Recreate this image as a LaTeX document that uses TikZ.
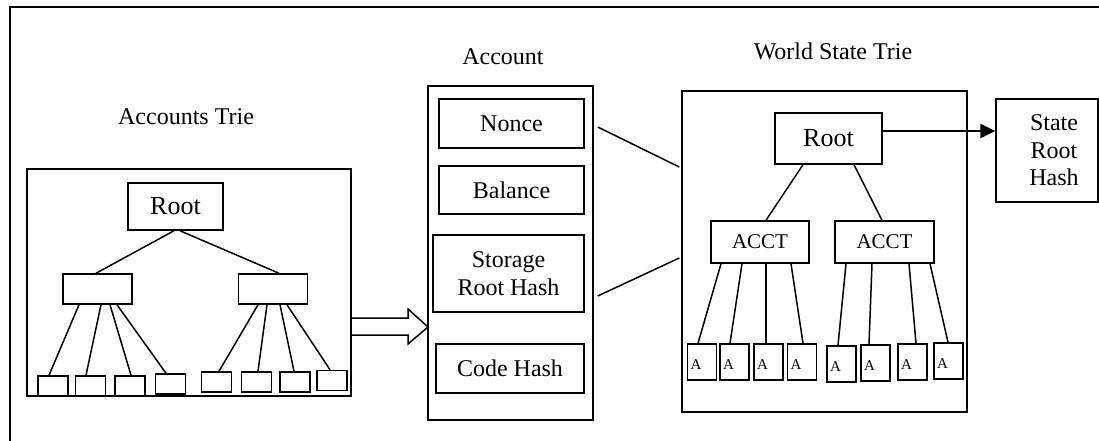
\documentclass[tikz,border=0pt]{standalone}
\usepackage{fontspec}
\setmainfont{Liberation Serif}
\usetikzlibrary{arrows.meta}

\tikzset{
  box/.style={draw, line width=1.5pt, inner sep=0pt, align=center,
    font=\fontsize{24}{27.5}\selectfont},
  bigtext/.style={font=\fontsize{26}{30}\selectfont},
  acctbox/.style={box, minimum width=98pt, minimum height=42pt,
    font=\fontsize{21}{24}\selectfont},
  leaf/.style={box, minimum width=30pt, minimum height=20pt},
  aleaf/.style={box, minimum width=29pt, minimum height=36pt, text width=23pt,
    align=left, font=\fontsize{15}{18}\selectfont},
  edge/.style={line width=1.5pt},
  title/.style={font=\fontsize{24}{27.5}\selectfont},
}

\begin{document}
\begin{tikzpicture}[x=1pt, y=-1pt]
  \useasboundingbox (0,0) rectangle (1099,441);
  % frame
  \draw[line width=2pt] (10,441) -- (10,7) -- (1099,7);

  % accounts trie
  \node[title] (ltitle) at (186,117) {Accounts Trie};
  \node[box, minimum width=324pt, minimum height=227pt] (ltrie) at (189,282.5) {};
  \node[box, bigtext, minimum width=95pt, minimum height=47pt] (lroot) at (175.5,206.5) {Root};
  \node[box, minimum width=69pt, minimum height=30pt] (lmidA) at (97.5,289) {};
  \node[box, minimum width=69pt, minimum height=30pt] (lmidB) at (273,289) {};
  \foreach \x/\y [count=\i] in {53/386, 90.5/386, 130/386, 170.5/384,
      216.5/382, 256.5/382, 295/382, 332/380.5}
    \node[leaf] (lleaf\i) at (\x,\y) {};
  \draw[edge] ([shift={(-1.5,0)}]lroot.south) -- ([shift={(-1.5,0)}]lmidA.north);
  \draw[edge] ([shift={(4.5,0)}]lroot.south) -- ([shift={(6,0)}]lmidB.north);
  \foreach \i/\a/\b in {1/-18.5/-4, 2/3.5/-4.5, 3/12.5/1, 4/19.5/-4.5}
    \draw[edge] ([shift={(\a,0)}]lmidA.south) -- ([shift={(\b,0)}]lleaf\i.north);
  \foreach \i/\a/\b in {5/-15/2.5, 6/-6/1.5, 7/7/-1, 8/14/-2}
    \draw[edge] ([shift={(\a,0)}]lmidB.south) -- ([shift={(\b,0)}]lleaf\i.north);

  % hollow arrow
  \draw[edge] (351,318) -- (408,318) -- (408,309) -- (428,327)
    -- (408,344) -- (408,335) -- (351,335);

  % account
  \node[title] (atitle) at (503,57) {Account};
  \node[box, minimum width=165pt, minimum height=334pt] (acct) at (510.5,253) {};
  \node[box, minimum width=145pt, minimum height=49pt] (nonce) at (511.5,123.5) {Nonce};
  \node[box, minimum width=145pt, minimum height=48pt] (balance) at (511.5,190) {Balance};
  \node[box, minimum width=151pt, minimum height=77pt] (storage) at (508.5,273.5) {Storage\\Root Hash};
  \node[box, minimum width=148pt, minimum height=49pt] (code) at (510,368.5) {Code Hash};

  % world state trie
  \node[title] (wtitle) at (833,51) {World State Trie};
  \node[box, minimum width=285pt, minimum height=321pt] (wbox) at (824.5,251.5) {};
  \node[box, bigtext, minimum width=107pt, minimum height=51pt] (wroot) at (828.5,138.5) {Root};
  \node[box, minimum width=102pt, minimum height=103pt] (state) at (1047,150.5)
    {\hspace*{14pt}State\\\hspace*{14pt}Root\\\hspace*{14pt}Hash};
  \node[acctbox] (acctA) at (760,242) {ACCT};
  \node[acctbox, minimum width=99pt] (acctB) at (884.5,242) {ACCT};
  \foreach \x/\y [count=\i] in {702/362, 734.5/362, 768.5/362, 802/362,
      841.5/364, 875.5/363, 912.5/362, 948.5/361}
    \node[aleaf] (wleaf\i) at (\x,\y) {\raisebox{-3pt}[\height][0pt]{A}};
  \draw[edge] ([shift={(-25.5,0)}]wroot.south) -- ([shift={(6,0)}]acctA.north);
  \draw[edge] ([shift={(25.5,0)}]wroot.south) -- ([shift={(-2.5,0)}]acctB.north);
  \foreach \i/\a/\b in {1/-39/-4, 2/-18/-4.5, 3/6/-2.5, 4/31/1}
    \draw[edge] ([shift={(\a,0)}]acctA.south) -- ([shift={(\b,0)}]wleaf\i.north);
  \foreach \i/\a/\b in {5/-38.5/-3.5, 6/-12.5/-6.5, 7/24.5/3.5, 8/45.5/-0.5}
    \draw[edge] ([shift={(\a,0)}]acctB.south) -- ([shift={(\b,0)}]wleaf\i.north);

  % links
  \draw[edge] ([shift={(13,3.5)}]nonce.east) -- ([shift={(-2,-84.5)}]wbox.west);
  \draw[edge] ([shift={(13,22.5)}]storage.east) -- ([shift={(-2,6.5)}]wbox.west);
  \coordinate (sarrow) at ([shift={(0,-7.5)}]wroot.east);
  \draw[line width=2.5pt, -{Triangle[length=15pt,width=14pt]}] (sarrow) -- (sarrow -| state.west);
\end{tikzpicture}
\end{document}
